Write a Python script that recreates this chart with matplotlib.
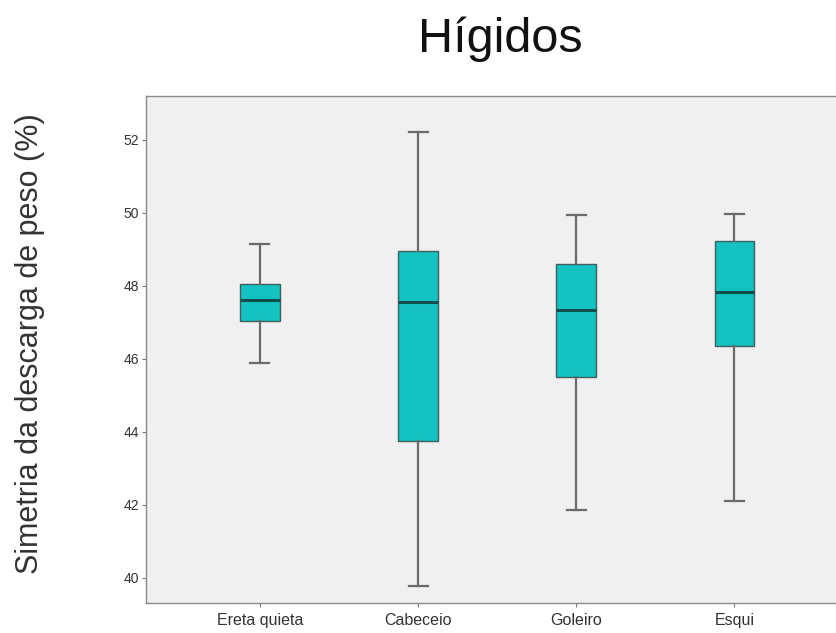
import matplotlib.pyplot as plt

categories = ['Ereta quieta', 'Cabeceio', 'Goleiro', 'Esqui']
whisker_low = [45.88, 39.77, 41.86, 42.11]
q1 = [47.05, 43.75, 45.50, 46.35]
median = [47.62, 47.56, 47.34, 47.83]
q3 = [48.04, 48.97, 48.60, 49.22]
whisker_high = [49.16, 52.22, 49.94, 49.97]
yticks = [40, 42, 44, 46, 48, 50, 52]

plt.rcParams['font.family'] = ['Liberation Sans', 'DejaVu Sans']

fig = plt.figure(figsize=(8.37, 6.33), dpi=100)
ax = fig.add_axes([0.1744, 0.047, 0.839, 0.801])
ax.set_facecolor('#f0f0f0')

stats = []
for i, name in enumerate(categories):
    stats.append({'label': name, 'whislo': whisker_low[i], 'q1': q1[i],
                  'med': median[i], 'q3': q3[i], 'whishi': whisker_high[i],
                  'fliers': []})

ax.bxp(stats, positions=range(1, len(categories) + 1), widths=0.25,
       capwidths=0.12, patch_artist=True, showfliers=False,
       boxprops=dict(facecolor='#14c2c2', edgecolor='#3f5f5f', linewidth=1.0),
       medianprops=dict(color='#0d4f4f', linewidth=2.2),
       whiskerprops=dict(color='#6a6a6a', linewidth=1.6),
       capprops=dict(color='#6a6a6a', linewidth=1.6))

ax.set_xlim(0.28, 4.72)
ax.set_ylim(39.3, 53.2)
ax.set_yticks(yticks)
ax.tick_params(axis='both', length=3, width=0.8, color='#777777', labelcolor='#333333', pad=2)
ax.tick_params(axis='x', labelsize=11.5, pad=4)
ax.tick_params(axis='y', labelsize=10)

for side in ['left', 'bottom', 'top', 'right']:
    ax.spines[side].set_color('#8a8a8a')
    ax.spines[side].set_linewidth(1.0)

ax.set_ylabel('Simetria da descarga de peso (%)', fontsize=22, color='#333333')
ax.yaxis.set_label_coords(-0.144, 0.513)
fig.text(0.598, 0.918, 'Hígidos', fontsize=35, ha='center', va='baseline', color='#111111')

plt.savefig('out.png', dpi=100)
